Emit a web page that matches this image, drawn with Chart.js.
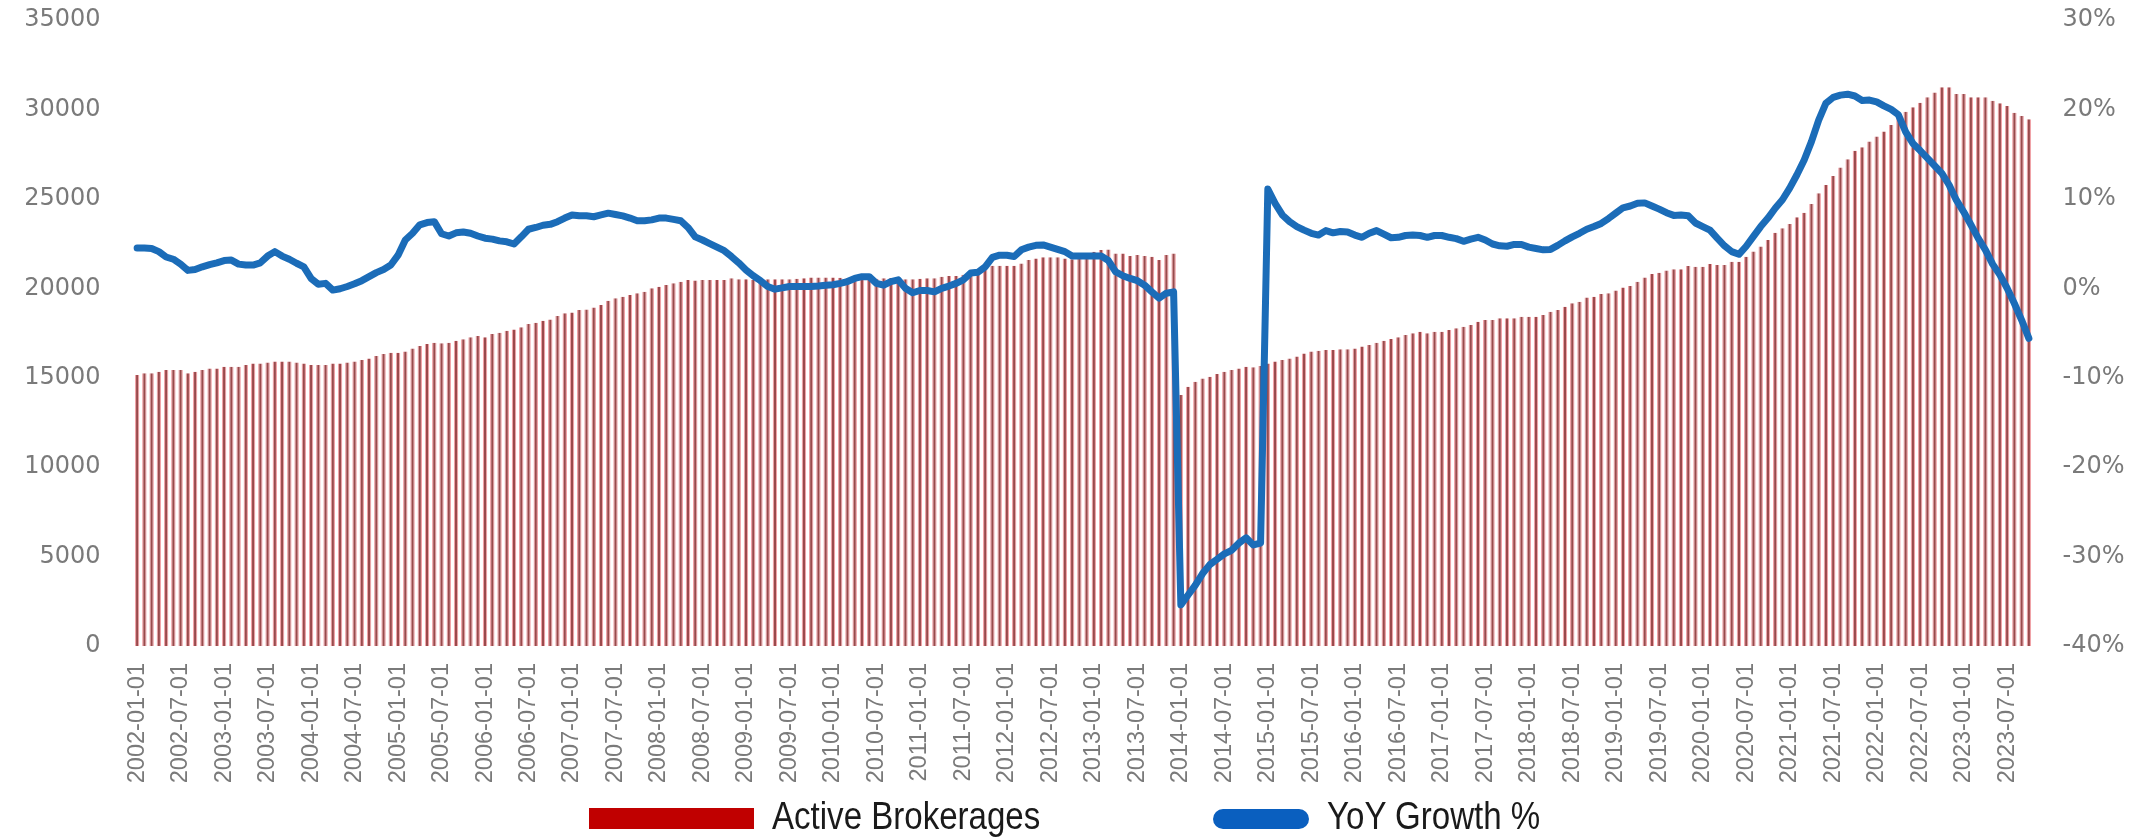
<!DOCTYPE html>
<html>
<head>
<meta charset="utf-8">
<title>Active Brokerages vs YoY Growth</title>
<script src="https://cdn.jsdelivr.net/npm/chart.js@4.4.0/dist/chart.umd.min.js"></script>
<style>
    html, body { margin: 0; padding: 0; background: #fff; }
    #wrap { position: relative; width: 2149px; height: 838px; overflow: hidden; }
    #chart { display: block; }
    .legend-box { position: absolute; }
    .legend-text {
        position: absolute;
        font-family: 'Liberation Sans', sans-serif;
        font-size: 38px;
        line-height: 38px;
        color: #1a1a1a;
        white-space: nowrap;
        transform: scaleX(0.87);
        transform-origin: left top;
    }
</style>
</head>
<body>
<div id="wrap">
    <canvas id="chart" width="2149" height="838"></canvas>
    <div class="legend-box" style="left:589px; top:808px; width:165px; height:21px; background:#c00000;"></div>
    <div class="legend-text" style="left:772px; top:797px;">Active Brokerages</div>
    <div class="legend-box" style="left:1213px; top:809px; width:96px; height:20px; border-radius:10px; background:#0a5fbf;"></div>
    <div class="legend-text" style="left:1327px; top:797px;">YoY Growth %</div>
</div>
<script>
/*********************************************************************/
/*****************************  Data  ********************************/
/*********************************************************************/
var firstYear = 2002, monthCount = 262;   // 2002-01 .. 2023-10

var categories = [];
for (var i = 0; i < monthCount; i++) {
    var yr = firstYear + Math.floor(i / 12), mo = i % 12 + 1;
    categories.push(yr + '-' + (mo < 10 ? '0' : '') + mo + '-01');
}
// only January and July get a label
var tickLabels = categories.filter(function(c) {
    return c.slice(5, 7) == '01' || c.slice(5, 7) == '07';
});

var activeBrokerages = [
    15150, 15250, 15250, 15340, 15430, 15430, 15430, 15250, 15340, 15430, 15520, 15520, // 2002
    15620, 15620, 15620, 15710, 15800, 15800, 15850, 15900, 15900, 15900, 15850, 15800, // 2003
    15710, 15710, 15710, 15800, 15800, 15850, 15900, 15990, 16080, 16210, 16330, 16400, // 2004
    16400, 16460, 16640, 16770, 16890, 16960, 16920, 16960, 17070, 17150, 17260, 17330, // 2005
    17260, 17440, 17520, 17630, 17700, 17820, 18000, 18080, 18190, 18260, 18450, 18600, // 2006
    18640, 18790, 18820, 18930, 19070, 19310, 19440, 19530, 19620, 19720, 19810, 20000, // 2007
    20090, 20180, 20280, 20370, 20460, 20430, 20460, 20460, 20460, 20460, 20560, 20500, // 2008
    20500, 20460, 20500, 20500, 20500, 20500, 20500, 20540, 20560, 20610, 20610, 20610, // 2009
    20610, 20590, 20560, 20560, 20560, 20560, 20540, 20560, 20580, 20560, 20500, 20500, // 2010
    20540, 20560, 20560, 20650, 20690, 20690, 20760, 20840, 20950, 21060, 21260, 21260, // 2011
    21260, 21260, 21390, 21580, 21660, 21730, 21730, 21730, 21670, 21620, 21750, 21900, // 2012
    22040, 22140, 22170, 21950, 21950, 21800, 21860, 21800, 21770, 21580, 21860, 21950, // 2013
    14030, 14500, 14780, 14960, 15060, 15210, 15340, 15430, 15520, 15620, 15580, 15650, // 2014
    15800, 15900, 15990, 16080, 16180, 16360, 16460, 16510, 16550, 16550, 16590, 16590, // 2015
    16640, 16740, 16830, 16960, 17070, 17170, 17260, 17390, 17480, 17570, 17480, 17570, // 2016
    17570, 17670, 17760, 17850, 17950, 18130, 18230, 18230, 18320, 18320, 18320, 18410, // 2017
    18410, 18410, 18510, 18690, 18790, 18970, 19160, 19250, 19490, 19530, 19680, 19720, // 2018
    19870, 20050, 20130, 20370, 20610, 20800, 20870, 20990, 21060, 21060, 21250, 21210, // 2019
    21210, 21360, 21300, 21300, 21490, 21490, 21770, 22050, 22330, 22700, 23110, 23350, // 2020
    23590, 23970, 24230, 24710, 25310, 25780, 26280, 26760, 27210, 27690, 27880, 28200, // 2021
    28480, 28760, 29130, 29590, 29870, 30120, 30380, 30680, 30940, 31240, 31240, 30860, // 2022
    30860, 30680, 30680, 30680, 30490, 30340, 30190, 29820, 29630, 29450                // 2023
];

var yoyGrowth = [
    4.5, 4.5, 4.45, 4.1, 3.5, 3.25, 2.7, 2.0, 2.1, 2.4, 2.65, 2.85,            // 2002
    3.1, 3.15, 2.7, 2.6, 2.6, 2.85, 3.6, 4.1, 3.6, 3.25, 2.8, 2.4,             // 2003
    1.1, 0.45, 0.55, -0.2, -0.05, 0.2, 0.5, 0.85, 1.3, 1.75, 2.1, 2.6,         // 2004
    3.7, 5.4, 6.15, 7.1, 7.35, 7.45, 6.1, 5.85, 6.2, 6.3, 6.15, 5.85,          // 2005
    5.6, 5.5, 5.3, 5.2, 4.95, 5.75, 6.6, 6.8, 7.05, 7.15, 7.45, 7.85,          // 2006
    8.2, 8.1, 8.1, 8.0, 8.2, 8.4, 8.25, 8.1, 7.85, 7.55, 7.55, 7.65,           // 2007
    7.85, 7.85, 7.7, 7.55, 6.8, 5.75, 5.4, 5.0, 4.6, 4.2, 3.55, 2.85,          // 2008
    2.05, 1.4, 0.85, 0.2, -0.1, 0.05, 0.2, 0.2, 0.2, 0.2, 0.25, 0.35,          // 2009
    0.4, 0.55, 0.75, 1.1, 1.3, 1.3, 0.55, 0.35, 0.75, 0.95, 0.0, -0.5,         // 2010
    -0.25, -0.25, -0.4, 0.0, 0.25, 0.55, 0.95, 1.7, 1.8, 2.4, 3.45, 3.7,       // 2011
    3.7, 3.55, 4.3, 4.6, 4.8, 4.85, 4.6, 4.35, 4.1, 3.6, 3.6, 3.6,             // 2012
    3.6, 3.6, 3.1, 1.85, 1.4, 1.1, 0.85, 0.35, -0.4, -1.1, -0.55, -0.4,        // 2013
    -35.4, -34.3, -33.2, -31.9, -30.9, -30.3, -29.7, -29.3, -28.5, -27.9, -28.7, -28.5, // 2014
    11.1, 9.5, 8.2, 7.45, 6.9, 6.5, 6.15, 5.95, 6.45, 6.2, 6.35, 6.3,          // 2015
    5.95, 5.7, 6.15, 6.45, 6.05, 5.65, 5.7, 5.9, 5.95, 5.9, 5.7, 5.9,          // 2016
    5.9, 5.7, 5.55, 5.25, 5.5, 5.7, 5.4, 4.95, 4.75, 4.7, 4.9, 4.9,            // 2017
    4.6, 4.45, 4.3, 4.35, 4.8, 5.3, 5.75, 6.15, 6.6, 6.9, 7.25, 7.8,           // 2018
    8.4, 9.0, 9.2, 9.5, 9.55, 9.2, 8.85, 8.45, 8.15, 8.2, 8.1, 7.3,            // 2019
    6.9, 6.5, 5.6, 4.75, 4.1, 3.8, 4.7, 5.8, 6.9, 7.85, 8.95, 9.9,             // 2020
    11.2, 12.7, 14.35, 16.4, 18.8, 20.7, 21.35, 21.6, 21.7, 21.5, 21.0, 21.05, // 2021
    20.85, 20.4, 20.0, 19.4, 17.5, 16.2, 15.4, 14.55, 13.7, 12.85, 11.55, 9.85, // 2022
    8.55, 7.1, 5.6, 4.3, 2.7, 1.5, 0.0, -1.7, -3.55, -5.6                      // 2023
];

var countTicks = { min: 0, max: 35000, step: 5000 };
var growthTicks = { min: -40, max: 30, step: 10 };

/*********************************************************************/
/*****************************  Chart  *******************************/
/*********************************************************************/
var axisFont = { family: "'DejaVu Sans', sans-serif", size: 24 };
var dateFont = { family: "'Liberation Sans', sans-serif", size: 23.5 };
var tickGray = '#7a7a7a';

// tick padding is also added to the scale's top/bottom padding, which
// pushes the plot down; keep only half a label there
function trimPadding(scale) {
    scale.paddingTop = 12;
    scale.paddingBottom = 12;
}

var ctx = document.getElementById('chart');
var chart = new Chart(ctx, {
    type: 'bar',
    data: {
        labels: categories,
        datasets: [{
            type: 'line',
            label: 'YoY Growth %',
            data: yoyGrowth,
            yAxisID: 'yGrowth',
            borderColor: '#1b6cb8',
            borderWidth: 7,
            borderJoinStyle: 'round',
            borderCapStyle: 'round',
            pointRadius: 0,
            tension: 0,
            fill: false,
            order: 0
        }, {
            type: 'bar',
            label: 'Active Brokerages',
            data: activeBrokerages,
            yAxisID: 'yCount',
            backgroundColor: '#9a4a4c',
            borderColor: '#f0a3a8',
            borderWidth: { left: 1.2, right: 1.2, top: 0, bottom: 0 },
            barPercentage: 0.62,
            categoryPercentage: 1,
            order: 1
        }]
    },
    options: {
        responsive: false,
        animation: false,
        layout: { padding: { top: 20, left: 0, right: 0, bottom: 0 } },
        plugins: {
            legend: { display: false },
            tooltip: { enabled: false }
        },
        scales: {
            x: {
                grid: { display: false, drawTicks: false },
                border: { display: false },
                ticks: {
                    autoSkip: false,
                    minRotation: 90,
                    maxRotation: 90,
                    padding: 17,
                    color: tickGray,
                    font: dateFont,
                    callback: function(value) {
                        var lab = this.getLabelForValue(value);
                        return tickLabels.indexOf(lab) >= 0 ? lab : '';
                    }
                },
                afterFit: function(scale) { scale.height = 192; }
            },
            yCount: {
                position: 'left',
                min: countTicks.min,
                max: countTicks.max,
                grid: { display: false, drawTicks: false },
                border: { display: false },
                ticks: {
                    stepSize: countTicks.step,
                    padding: 33,
                    color: tickGray,
                    font: axisFont,
                    callback: function(v) { return String(v); }
                },
                afterFit: function(scale) { scale.width = 133.5; trimPadding(scale); }
            },
            yGrowth: {
                position: 'right',
                min: growthTicks.min,
                max: growthTicks.max,
                grid: { display: false, drawTicks: false },
                border: { display: false },
                ticks: {
                    stepSize: growthTicks.step,
                    padding: 30,
                    color: tickGray,
                    font: axisFont,
                    callback: function(v) { return v + '%'; }
                },
                afterFit: function(scale) { scale.width = 116.5; trimPadding(scale); }
            }
        }
    }
});
</script>
</body>
</html>
